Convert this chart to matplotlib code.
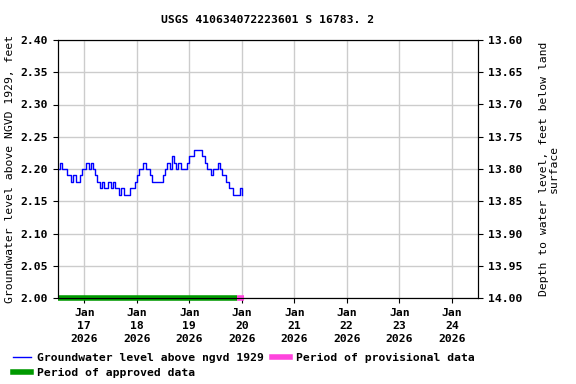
import numpy as np
import matplotlib
matplotlib.use("Agg")
import matplotlib.pyplot as plt
from matplotlib.lines import Line2D

plt.rcParams['font.family'] = ['DejaVu Sans Mono']
plt.rcParams['font.weight'] = 'bold'

# hourly readings starting 2026-01-16 12:00
start = np.datetime64('2026-01-16T12:00')
levels = [2.20, 2.21, 2.20, 2.20, 2.19, 2.19, 2.18, 2.19, 2.18, 2.18, 2.19, 2.20,
          2.20, 2.21, 2.20, 2.21, 2.20, 2.19, 2.18, 2.17, 2.18, 2.17, 2.17, 2.18,
          2.17, 2.18, 2.17, 2.17, 2.16, 2.17, 2.16, 2.16, 2.16, 2.17, 2.17, 2.18,
          2.19, 2.20, 2.20, 2.21, 2.20, 2.20, 2.19, 2.18, 2.18, 2.18, 2.18, 2.18,
          2.19, 2.20, 2.21, 2.20, 2.22, 2.21, 2.20, 2.21, 2.20, 2.20, 2.20, 2.21,
          2.22, 2.22, 2.23, 2.23, 2.23, 2.23, 2.22, 2.21, 2.20, 2.20, 2.19, 2.20,
          2.20, 2.21, 2.20, 2.19, 2.19, 2.18, 2.17, 2.17, 2.16, 2.16, 2.16, 2.17,
          2.16]
times = start + np.arange(len(levels)) * np.timedelta64(1, 'h')

approved = [np.datetime64('2026-01-16T12:00'), np.datetime64('2026-01-19T22:00')]
provisional = [np.datetime64('2026-01-19T22:00'), np.datetime64('2026-01-20T01:00')]

land_surface = 16.00
tick_days = np.arange(np.datetime64('2026-01-17'), np.datetime64('2026-01-25'))
tick_labels = ['Jan\n%d\n2026' % d for d in range(17, 25)]
yticks = [2.00, 2.05, 2.10, 2.15, 2.20, 2.25, 2.30, 2.35, 2.40]

FS = 8.2

fig = plt.figure(figsize=(5.76, 3.84), dpi=100)
ax = fig.add_axes([58/576, 1-298/384, (478-58)/576, (298-40)/384])

ax.plot(times.astype('datetime64[m]').astype(object), levels, color='#0000ff', lw=1.0,
        drawstyle='steps-post', zorder=3)
ax.plot(np.array(approved).astype(object), [2.0, 2.0], color='#009900', lw=4,
        solid_capstyle='butt', zorder=4, clip_on=False)
ax.plot(np.array(provisional).astype(object), [2.0, 2.0], color='#ff44dd', lw=4,
        solid_capstyle='butt', zorder=4, clip_on=False)

ax.set_xlim(np.datetime64('2026-01-16T12:00').astype(object),
            np.datetime64('2026-01-24T12:00').astype(object))
ax.set_ylim(2.0, 2.4)
ax.set_xticks(tick_days.astype('datetime64[m]').astype(object))
ax.set_xticklabels(tick_labels, fontsize=FS, linespacing=1.4)
ax.set_yticks(yticks)
ax.set_yticklabels(['%.2f' % v for v in yticks], fontsize=FS)
ax.grid(True, color='#cccccc', lw=1)
ax.set_axisbelow(True)
ax.set_ylabel('Groundwater level above NGVD 1929, feet', fontsize=FS, labelpad=4)
ax.set_title('USGS 410634072223601 S 16783. 2', fontsize=FS, pad=12,
             fontweight='bold')

ax2 = ax.twinx()
ax2.set_ylim(land_surface - 2.0, land_surface - 2.4)
rt = [land_surface - v for v in yticks]
ax2.set_yticks(rt)
ax2.set_yticklabels(['%.2f' % v for v in rt], fontsize=FS)
ax2.set_ylabel('Depth to water level, feet below land\nsurface', fontsize=FS,
               labelpad=12, linespacing=1.0)

handles = [Line2D([], [], color='#0000ff', lw=1),
           Line2D([], [], color='#009900', lw=4),
           Line2D([], [], color='#ff44dd', lw=4)]
labels = ['Groundwater level above ngvd 1929', 'Period of approved data',
          'Period of provisional data']
fig.legend(handles, labels, loc='upper left', bbox_to_anchor=(0.015, 0.092),
           ncol=2, frameon=False, fontsize=FS, handlelength=1.6,
           columnspacing=0.7, handletextpad=0.5, labelspacing=0.45,
           borderaxespad=0)

fig.savefig('out.png', dpi=100)
